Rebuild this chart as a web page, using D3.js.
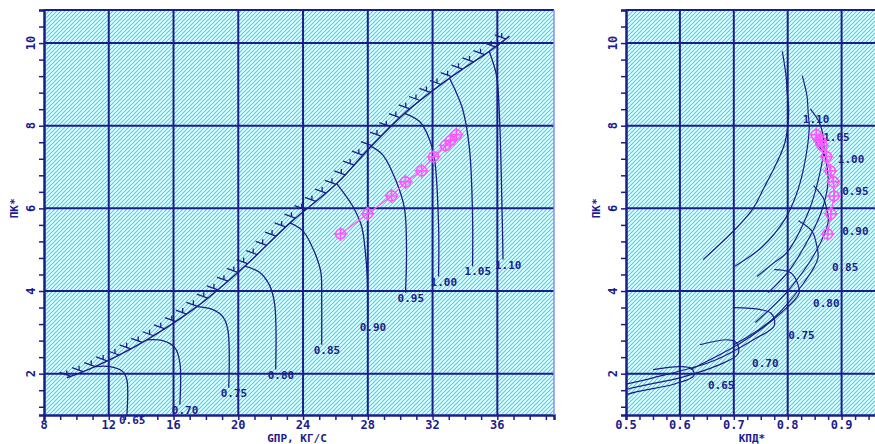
<!DOCTYPE html>
<html>
<head>
<meta charset="utf-8">
<script src="https://cdn.jsdelivr.net/npm/d3@7"></script>
<style>
body{margin:0;background:#fff;}
svg text{font-family:"DejaVu Sans Mono",monospace;font-weight:bold;fill:#1c1c8c;}
</style>
</head>
<body>
<svg width="875" height="444"></svg>
<script>
// speed lines (relative rpm)
var speeds = ['0.65','0.70','0.75','0.80','0.85','0.90','0.95','1.00','1.05','1.10'];

// left map: flow vs pressure ratio, each line from surge to choke
var flowLines = [
  [11.15, 12.07, 12.87, 13.12, 13.12],
  [14.35, 15.34, 16.08, 16.39, 16.39],
  [17.44, 18.43, 19.04, 19.35, 19.41],
  [20.4, 21.33, 21.94, 22.25, 22.31],
  [23.2, 24.0, 24.7, 25.1, 25.15, 25.15],
  [26.08, 27.07, 27.62, 27.85, 27.97, 27.99],
  [28.2, 28.91, 29.78, 30.27, 30.39, 30.33],
  [30.27, 31.2, 31.8, 32.12, 32.37, 32.37],
  [33.05, 33.85, 34.28, 34.47, 34.47],
  [35.5, 35.95, 36.13, 36.3, 36.35]
];
var prLines = [
  [2.17, 2.17, 2.05, 1.85, 1.0],
  [2.82, 2.80, 2.63, 2.27, 1.25],
  [3.62, 3.55, 3.38, 3.07, 1.66],
  [4.6, 4.45, 4.13, 3.67, 2.10],
  [5.65, 5.45, 4.95, 4.45, 3.8, 2.70],
  [6.6, 6.05, 5.56, 4.93, 4.3, 3.24],
  [7.5, 7.3, 6.63, 5.98, 5.0, 3.96],
  [8.3, 8.1, 7.68, 7.2, 5.6, 4.35],
  [9.15, 8.41, 7.44, 5.81, 4.6],
  [9.8, 9.21, 8.24, 5.8, 4.76]
];

// right map: efficiency vs pressure ratio, each line from surge to choke
var effLines = [
  [0.55, 0.60, 0.622, 0.626, 0.59, 0.50, 0.43],
  [0.637, 0.69, 0.705, 0.708, 0.67, 0.60, 0.50, 0.44],
  [0.70, 0.75, 0.77, 0.775, 0.74, 0.66, 0.55, 0.47],
  [0.775, 0.805, 0.818, 0.821, 0.79, 0.72, 0.62],
  [0.82, 0.845, 0.853, 0.856, 0.83, 0.77, 0.70],
  [0.848, 0.866, 0.873, 0.875, 0.85, 0.80, 0.74],
  [0.852, 0.868, 0.873, 0.875, 0.862, 0.832, 0.80, 0.764],
  [0.842, 0.858, 0.865, 0.867, 0.855, 0.838, 0.799, 0.776, 0.743],
  [0.827, 0.836, 0.838, 0.840, 0.830, 0.815, 0.795, 0.752, 0.702],
  [0.790, 0.797, 0.799, 0.802, 0.795, 0.777, 0.756, 0.736, 0.703, 0.643]
];
var prEffLines = [
  [2.1, 2.17, 2.12, 1.95, 1.75, 1.49, 1.0],
  [2.7, 2.82, 2.75, 2.48, 2.2, 1.9, 1.61, 1.25],
  [3.6, 3.55, 3.45, 3.16, 2.85, 2.3, 1.9, 1.66],
  [4.52, 4.45, 4.2, 3.94, 3.5, 2.8, 2.1],
  [5.70, 5.45, 5.15, 4.79, 4.2, 3.3, 2.7],
  [6.55, 6.25, 5.95, 5.67, 4.9, 4.0, 3.24],
  [7.61, 7.3, 7.0, 6.64, 5.9, 5.1, 4.45, 3.96],
  [8.41, 8.1, 7.8, 7.42, 6.6, 5.9, 4.94, 4.7, 4.35],
  [9.21, 8.7, 8.3, 7.95, 7.0, 6.3, 5.74, 5.06, 4.6],
  [9.8, 9.2, 8.8, 8.39, 7.6, 7.03, 6.5, 6.0, 5.5, 4.76]
];

// surge line
var surgeFlow = [9.42, 11.15, 14.35, 17.44, 20.4, 23.2, 26.08, 28.2, 30.27, 33.05, 35.5, 36.75];
var surgePr   = [1.9, 2.17, 2.82, 3.62, 4.6, 5.65, 6.6, 7.5, 8.3, 9.15, 9.8, 10.17];

// operating points
var opFlow = [26.32, 27.99, 29.47, 30.33, 31.32, 32.06, 32.80, 33.11, 33.48];
var opPr   = [5.38, 5.87, 6.30, 6.64, 6.91, 7.25, 7.52, 7.64, 7.78];
var opEff  = [0.874, 0.880, 0.886, 0.885, 0.879, 0.872, 0.864, 0.860, 0.853];

// ticks
var flowTicks = [8, 12, 16, 20, 24, 28, 32, 36];
var prTicks = [2, 4, 6, 8, 10];
var effTicks = [0.5, 0.6, 0.7, 0.8, 0.9];

(function(){
var navy = '#1c1c8c', pink = '#ff55ff';
var plotTop = 10, plotBottom = 415;

var svg = d3.select('svg');
var defs = svg.append('defs');
var pat = defs.append('pattern').attr('id','hatch').attr('patternUnits','userSpaceOnUse')
  .attr('width',4).attr('height',4);
pat.append('rect').attr('width',4).attr('height',4).attr('fill','#fff');
pat.append('path').attr('d','M-1,5 L5,-1 M-1,1 L1,-1 M3,5 L5,3')
  .attr('stroke','#2cdcee').attr('stroke-width',1.2);

var y = d3.scaleLinear().domain([1, 10.8]).range([plotBottom, plotTop]);
var xL = d3.scaleLinear().domain([8, 39.5]).range([44, 554]);
var xR = d3.scaleLinear().domain([0.5, 1.0]).range([626, 895.5]);

function panel(x, x0, x1, minorX, majorX, fmtX, title, titleX, clipId){
  var g = svg.append('g');
  defs.append('clipPath').attr('id', clipId).append('rect')
    .attr('x', x0).attr('y', plotTop).attr('width', x1 - x0).attr('height', plotBottom - plotTop);
  g.append('rect').attr('x', x0).attr('y', plotTop).attr('width', x1 - x0).attr('height', plotBottom - plotTop)
    .attr('fill','url(#hatch)');
  // grid
  g.selectAll('.vg').data(majorX.slice(1)).enter().append('line')
    .attr('x1', d => x(d)).attr('x2', d => x(d)).attr('y1', plotTop).attr('y2', plotBottom)
    .attr('stroke', navy).attr('stroke-width', 2);
  g.selectAll('.hg').data(prTicks).enter().append('line')
    .attr('x1', x0).attr('x2', x1).attr('y1', d => y(d)).attr('y2', d => y(d))
    .attr('stroke', navy).attr('stroke-width', 2);
  // axes
  var ax = g.append('g').attr('transform', `translate(0,${plotBottom})`)
    .call(d3.axisBottom(x).tickValues(minorX).tickSize(5).tickFormat(''));
  var ay = g.append('g').attr('transform', `translate(${x0},0)`)
    .call(d3.axisLeft(y).tickValues(d3.range(10.8, 1.1, -0.4)).tickSize(5).tickFormat(''));
  [ax, ay].forEach(a => {
    a.select('.domain').attr('stroke', navy).attr('stroke-width', 2.5);
    a.selectAll('.tick line').attr('stroke', navy).attr('stroke-width', 1.5);
  });
  g.append('line').attr('x1', x0).attr('x2', x1).attr('y1', plotTop).attr('y2', plotTop)
    .attr('stroke', navy).attr('stroke-width', 2);
  g.append('line').attr('x1', x1).attr('x2', x1).attr('y1', plotTop).attr('y2', plotBottom)
    .attr('stroke', '#8c8cf0').attr('stroke-width', 1.5);
  // tick labels
  g.selectAll('.xl').data(majorX).enter().append('text')
    .attr('x', d => x(d)).attr('y', 429).attr('text-anchor','middle')
    .style('font-size','12px').text(fmtX);
  g.selectAll('.yl').data(prTicks).enter().append('text')
    .attr('transform', d => `translate(${x0 - 13},${y(d)}) rotate(-90)`)
    .attr('text-anchor','middle').attr('dy','0.35em')
    .style('font-size','12px').text(d => d);
  g.append('text').attr('transform', `translate(${x0 - 30},${y(6)}) rotate(-90)`)
    .attr('text-anchor','middle').attr('dy','0.35em').style('font-size','11px').text('ПК*');
  g.append('text').attr('x', titleX).attr('y', 442).attr('text-anchor','middle')
    .style('font-size','11px').text(title);
  return g.append('g').attr('clip-path', `url(#${clipId})`);
}

var left = panel(xL, 44, 554, d3.range(8, 39.6, 1), flowTicks, d => d, 'GПР, КГ/С', 297, 'clipL');
var right = panel(xR, 626, 895.5, d3.range(0.5, 1.001, 0.025), effTicks, d => d.toFixed(1), 'КПД*', 752, 'clipR');

var line = d3.line().curve(d3.curveCatmullRom.alpha(0.5));

// left: speed lines
speeds.forEach((s, i) => {
  var pts = flowLines[i].map((f, j) => [xL(f), y(prLines[i][j])]);
  left.append('path').attr('d', line(pts)).attr('fill','none')
    .attr('stroke', navy).attr('stroke-width', 1.3);
  var end = pts[pts.length - 1];
  svg.append('text').attr('x', end[0] - 8).attr('y', end[1] + 9)
    .style('font-size','11px').text(s);
});

// left: surge line with hatching
var surgePath = left.append('path')
  .attr('d', line(surgeFlow.map((f, j) => [xL(f), y(surgePr[j])])))
  .attr('fill','none').attr('stroke', navy).attr('stroke-width', 1.5);
var node = surgePath.node(), len = node.getTotalLength();
d3.range(4, len, 13.2).forEach(l => {
  var p = node.getPointAtLength(l);
  left.append('path')
    .attr('d', `M${p.x},${p.y} L${p.x - 11},${p.y - 4} M${p.x - 4},${p.y - 1.5} L${p.x - 4},${p.y - 6}`)
    .attr('stroke', navy).attr('stroke-width', 1.3).attr('fill','none');
});

// right: efficiency lines
speeds.forEach((s, i) => {
  var pts = effLines[i].map((e, j) => [xR(e), y(prEffLines[i][j])]);
  right.append('path').attr('d', line(pts)).attr('fill','none')
    .attr('stroke', navy).attr('stroke-width', 1.2);
  var k = d3.maxIndex(effLines[i]);
  right.append('text').attr('x', pts[k][0] + 14).attr('y', pts[k][1] + 13)
    .style('font-size','11px').text(s);
});

// operating line on both maps
function opMarks(g, pts){
  g.append('path').attr('d', d3.line()(pts)).attr('fill','none')
    .attr('stroke', pink).attr('stroke-width', 1.2);
  var m = g.selectAll('.opm').data(pts).enter().append('g')
    .attr('transform', d => `translate(${d[0]},${d[1]})`);
  m.append('circle').attr('r', 5).attr('fill','none').attr('stroke', pink).attr('stroke-width', 1.6);
  m.append('path').attr('d','M-7,0 H7 M0,-7 V7').attr('stroke', pink).attr('stroke-width', 1.6);
}
opMarks(left, opFlow.map((f, j) => [xL(f), y(opPr[j])]));
opMarks(right, opEff.map((e, j) => [xR(e), y(opPr[j])]));
})();
</script>
</body>
</html>
